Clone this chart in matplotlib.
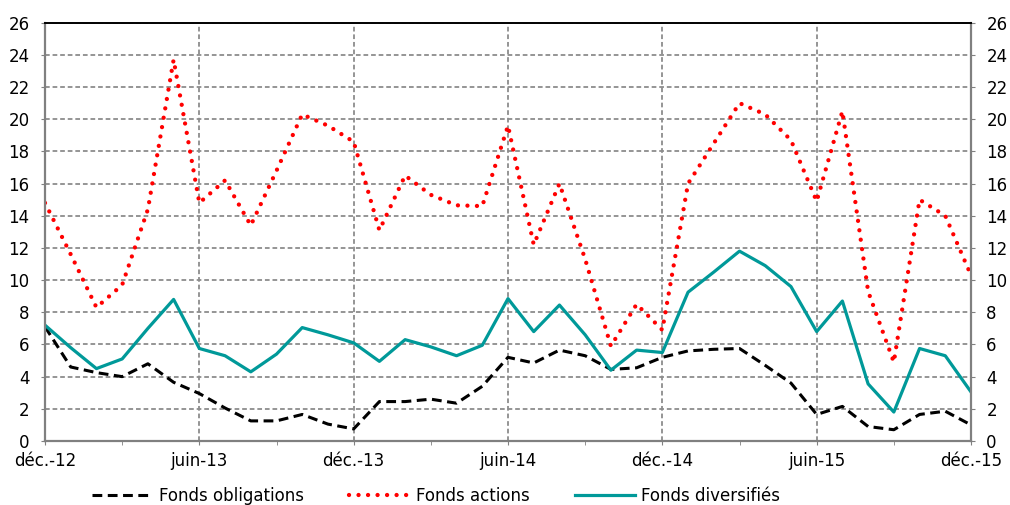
import numpy as np
import matplotlib
matplotlib.use('Agg')
import matplotlib.pyplot as plt

plt.rcParams['font.family'] = ['DejaVu Sans']

# monthly values, déc.-12 to déc.-15
months = np.arange(37)
obligations = [7.1, 4.6, 4.25, 4.0, 4.8, 3.65, 2.95, 2.05, 1.25, 1.25, 1.65, 1.05, 0.75,
               2.45, 2.45, 2.6, 2.35, 3.4, 5.2, 4.85, 5.65, 5.3, 4.45, 4.55, 5.2,
               5.6, 5.7, 5.75, 4.7, 3.6, 1.65, 2.15, 0.9, 0.7, 1.65, 1.85, 1.0]
actions = [14.8, 11.6, 8.3, 9.7, 14.4, 23.7, 14.8, 16.2, 13.4, 16.8, 20.3, 19.6, 18.6,
           13.1, 16.5, 15.3, 14.65, 14.6, 19.6, 12.2, 16.0, 11.3, 5.9, 8.5, 6.9,
           16.0, 18.5, 21.0, 20.3, 18.7, 14.9, 20.5, 9.3, 4.9, 15.0, 14.0, 10.3]
diversifies = [7.2, 5.8, 4.5, 5.1, 7.0, 8.8, 5.75, 5.3, 4.3, 5.4, 7.05, 6.6, 6.1,
               4.95, 6.3, 5.85, 5.3, 5.95, 8.85, 6.8, 8.45, 6.6, 4.4, 5.65, 5.5,
               9.25, 10.5, 11.8, 10.9, 9.6, 6.8, 8.7, 3.55, 1.8, 5.75, 5.3, 3.05]
tick_pos = [0, 6, 12, 18, 24, 30, 36]
tick_labels = ['déc.-12', 'juin-13', 'déc.-13', 'juin-14', 'déc.-14', 'juin-15', 'déc.-15']

fig = plt.figure(figsize=(10.1, 5.05), dpi=100)
ax = fig.add_axes([45/1010, 1-441/505, (971-45)/1010, (441-22.7)/505])

ax.plot(months, obligations, color='black', lw=2.2, linestyle=(0, (3.2, 1.8)),
        label='Fonds obligations')
ax.plot(months, actions, color='#ff0000', lw=3.1, linestyle=(0, (0.01, 2.2)),
        dash_capstyle='round', label='Fonds actions')
ax.plot(months, diversifies, color='#009999', lw=2.3, label='Fonds diversifiés')

ax.set_xlim(0, 36)
ax.set_ylim(0, 26)
ax.set_yticks(np.arange(0, 27, 2))
ax.set_xticks(tick_pos)
ax.set_xticklabels(tick_labels)
ax.set_xticks(np.arange(3, 36, 6), minor=True)

ax.grid(True, which='major', color='#8c8c8c', linestyle=(0, (2.6, 1.6)), lw=1.3)
ax.set_axisbelow(True)

ax.tick_params(axis='y', which='both', direction='out', length=3, left=True, right=True,
               labelleft=True, labelright=True, labelsize=12, color='#808080', pad=8)
ax.tick_params(axis='x', which='both', direction='out', length=3, labelsize=12,
               color='#808080', pad=5)

for s in ['left', 'right', 'bottom']:
    ax.spines[s].set_color('#808080')
    ax.spines[s].set_linewidth(1.6)
ax.spines['top'].set_color('black')
ax.spines['top'].set_linewidth(1.4)

fig.legend(loc='center', bbox_to_anchor=(0.432, 1-496/505), ncol=3, frameon=False,
           fontsize=12, handlelength=3.6, columnspacing=2.7, handletextpad=0.4)

fig.savefig('out.png', dpi=100)
